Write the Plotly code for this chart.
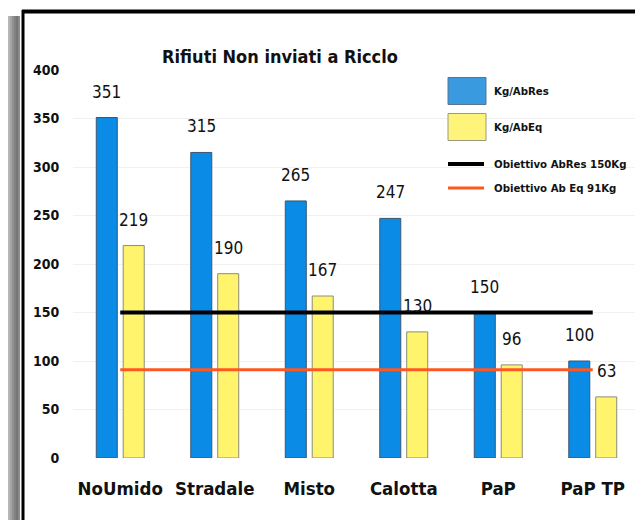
import plotly.graph_objects as go

# ---- data ----
categories = ["NoUmido", "Stradale", "Misto", "Calotta", "PaP", "PaP TP"]
kg_abres = [351, 315, 265, 247, 150, 100]
kg_abeq = [219, 190, 167, 130, 96, 63]
target_abres = 150
target_abeq = 91
series_names = ["Kg/AbRes", "Kg/AbEq", "Obiettivo AbRes 150Kg", "Obiettivo Ab Eq 91Kg"]
title_text = "Rifiuti Non inviati a Ricclo"
y_ticks = [0, 50, 100, 150, 200, 250, 300, 350, 400]

# ---- style ----
# the page body has an 8px margin; the figure is sized so it ends at the window edge
OFF = 8
W, H = 643 - OFF, 520 - OFF
L, R, T, B = 73 - OFF, 3, 70 - OFF, 520 - 458
PW, PH = W - L - R, H - T - B
FONT = "DejaVu Sans Condensed, Liberation Sans Narrow, sans-serif"
BLUE = "#0A8BE6"
YELLOW = "#FFF46C"
BLACK = "#000000"
RED = "#FF5722"


def px(x):
    """screen pixel x -> paper coordinate"""
    return (x - OFF - L) / PW


def py(y):
    """screen pixel y -> paper coordinate"""
    return (H - B - (y - OFF)) / PH


fig = go.Figure()
fig.add_trace(go.Bar(x=categories, y=kg_abres, name=series_names[0],
                     marker=dict(color=BLUE, line=dict(color="#3c5670", width=1))))
fig.add_trace(go.Bar(x=categories, y=kg_abeq, name=series_names[1],
                     marker=dict(color=YELLOW, line=dict(color="#8c8c78", width=1))))
fig.add_trace(go.Scatter(x=categories, y=[target_abres] * len(categories), mode="lines",
                         name=series_names[2], line=dict(color=BLACK, width=4)))
fig.add_trace(go.Scatter(x=categories, y=[target_abeq] * len(categories), mode="lines",
                         name=series_names[3], line=dict(color=RED, width=3)))

annotations = []
for c, v in zip(categories, kg_abres):
    annotations.append(dict(x=c, y=v, xref="x", yref="y", text=str(v), showarrow=False,
                            xshift=-13.5, yshift=26, yanchor="middle",
                            font=dict(family=FONT, size=17, color="#111111")))
for c, v in zip(categories, kg_abeq):
    annotations.append(dict(x=c, y=v, xref="x", yref="y", text=str(v), showarrow=False,
                            xshift=13.5, yshift=26, yanchor="middle",
                            font=dict(family=FONT, size=17, color="#111111")))

# custom legend
shapes = []
shapes.append(dict(type="rect", xref="paper", yref="paper", x0=px(430), x1=px(640),
                   y0=py(205), y1=py(64), fillcolor="white", line=dict(width=0), layer="between"))
leg_rows = [(91, "rect", "#3A9AE0", "#5a7590"), (127, "rect", "#FFF47A", "#9a9a80"),
            (164, "line", BLACK, 4), (188, "line", RED, 3)]
for (yc, kind, col, extra), name in zip(leg_rows, series_names):
    if kind == "rect":
        shapes.append(dict(type="rect", xref="paper", yref="paper", x0=px(448), x1=px(486),
                           y0=py(yc + 13.5), y1=py(yc - 13.5), fillcolor=col,
                           line=dict(color=extra, width=1)))
    else:
        shapes.append(dict(type="line", xref="paper", yref="paper", x0=px(448), x1=px(484),
                           y0=py(yc), y1=py(yc), line=dict(color=col, width=extra)))
    annotations.append(dict(x=px(492), y=py(yc), xref="paper", yref="paper", text=name,
                            showarrow=False, xanchor="left", yanchor="middle",
                            font=dict(family=FONT, size=11.3, color="#111111", weight="bold")))

# frame and shadow (screen x 8..18 visible part of the shadow)
greys = ["#b6b6b6", "#a4a4a4", "#929292", "#828282", "#767676", "#8a8a8a"]
for i, g in enumerate(greys):
    x0 = 8 + i * 2
    shapes.append(dict(type="rect", xref="paper", yref="paper", x0=px(x0), x1=px(x0 + 2),
                       y0=py(530), y1=py(16), fillcolor=g, line=dict(width=0), layer="above"))
shapes.append(dict(type="line", xref="paper", yref="paper", x0=px(23), x1=px(23),
                   y0=py(530), y1=py(10), line=dict(color="black", width=3), layer="above"))
shapes.append(dict(type="line", xref="paper", yref="paper", x0=px(22), x1=px(650),
                   y0=py(11.5), y1=py(11.5), line=dict(color="black", width=4), layer="above"))

fig.update_layout(
    width=W, height=H,
    margin=dict(l=L, r=R, t=T, b=B, autoexpand=False),
    paper_bgcolor="white", plot_bgcolor="white",
    barmode="group", bargap=0.43, bargroupgap=0.22,
    showlegend=False,
    title=dict(text=title_text, x=(280 - OFF) / W, xanchor="center", xref="container",
               y=1 - (57 - OFF) / H, yanchor="middle", yref="container",
               font=dict(family=FONT, size=18, color="#111111", weight="bold")),
    annotations=annotations, shapes=shapes,
    font=dict(family=FONT),
)
fig.update_xaxes(showgrid=False, showline=False, zeroline=False, automargin=False,
                 tickangle=0, ticks="outside", ticklen=14, tickcolor="rgba(0,0,0,0)",
                 tickfont=dict(family=FONT, size=18.5, color="#111111", weight="bold"))
fig.update_yaxes(range=[0, 400], tickvals=y_ticks, showgrid=True, gridcolor="#f1f1f1",
                 gridwidth=1, zeroline=False, showline=False, automargin=False,
                 ticks="outside", ticklen=10, tickcolor="rgba(0,0,0,0)",
                 tickfont=dict(family=FONT, size=14, color="#111111", weight="bold"))

fig.write_html("out.html")
